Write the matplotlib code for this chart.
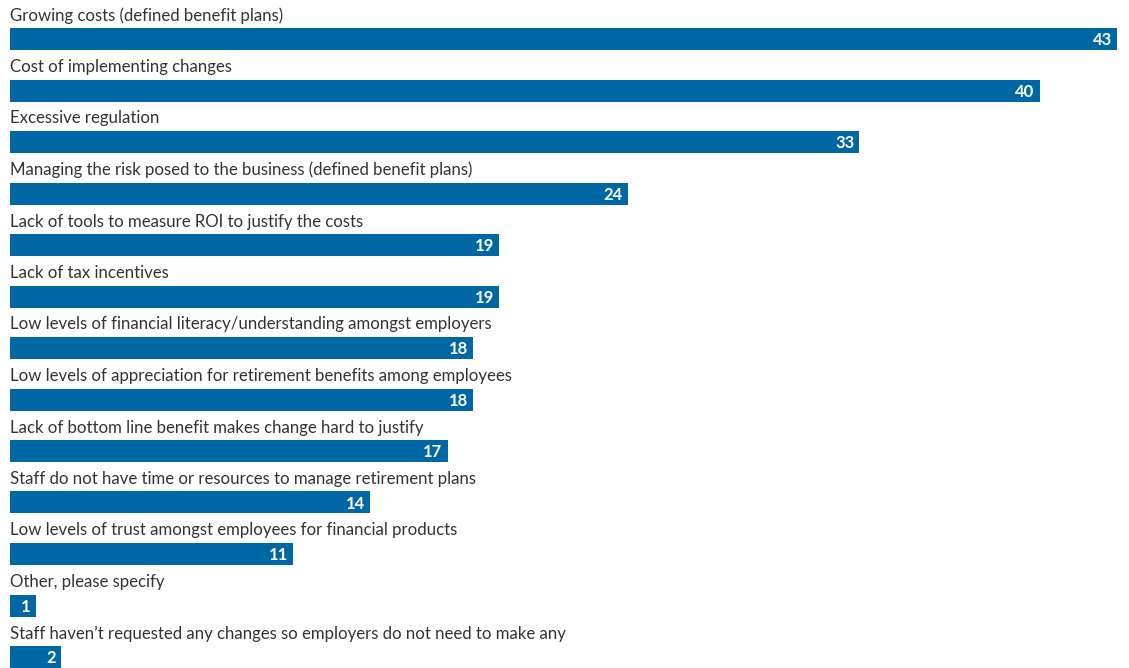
import matplotlib
matplotlib.use("Agg")
import matplotlib.pyplot as plt
from matplotlib.transforms import offset_copy

categories = [
    "Growing costs (defined benefit plans)",
    "Cost of implementing changes",
    "Excessive regulation",
    "Managing the risk posed to the business (defined benefit plans)",
    "Lack of tools to measure ROI to justify the costs",
    "Lack of tax incentives",
    "Low levels of financial literacy/understanding amongst employers",
    "Low levels of appreciation for retirement benefits among employees",
    "Lack of bottom line benefit makes change hard to justify",
    "Staff do not have time or resources to manage retirement plans",
    "Low levels of trust amongst employees for financial products",
    "Other, please specify",
    "Staff haven\u2019t requested any changes so employers do not need to make any",
]
values = [43, 40, 33, 24, 19, 19, 18, 18, 17, 14, 11, 1, 2]

BAR = "#0067a5"
W, H = 1129, 668
fig = plt.figure(figsize=(W / 100, H / 100), dpi=100)
ax = fig.add_axes([0, 0, 1, 1])

px_per_unit = 25.74
x0 = 10
ax.set_xlim(-x0 / px_per_unit, (W - x0) / px_per_unit)
spacing = 51.5
c0 = 39
ax.set_ylim((H - c0) / spacing, -c0 / spacing)

ys = list(range(len(categories)))
ax.barh(ys, values, height=22 / spacing, color=BAR, left=0)

for y, cat, v in zip(ys, categories, values):
    ax.text(0, y - 23.5 / spacing, cat, ha="left", va="center",
            fontsize=12.1, family="Lato", color="#333333")
    tr = offset_copy(ax.transData, fig=fig, x=-5, y=0, units="dots")
    ax.text(v, y + 0.02, str(v), ha="right", va="center", transform=tr,
            fontsize=12, family="Lato", fontweight="bold", color="white")

ax.axis("off")
fig.savefig("out.png", dpi=100)
